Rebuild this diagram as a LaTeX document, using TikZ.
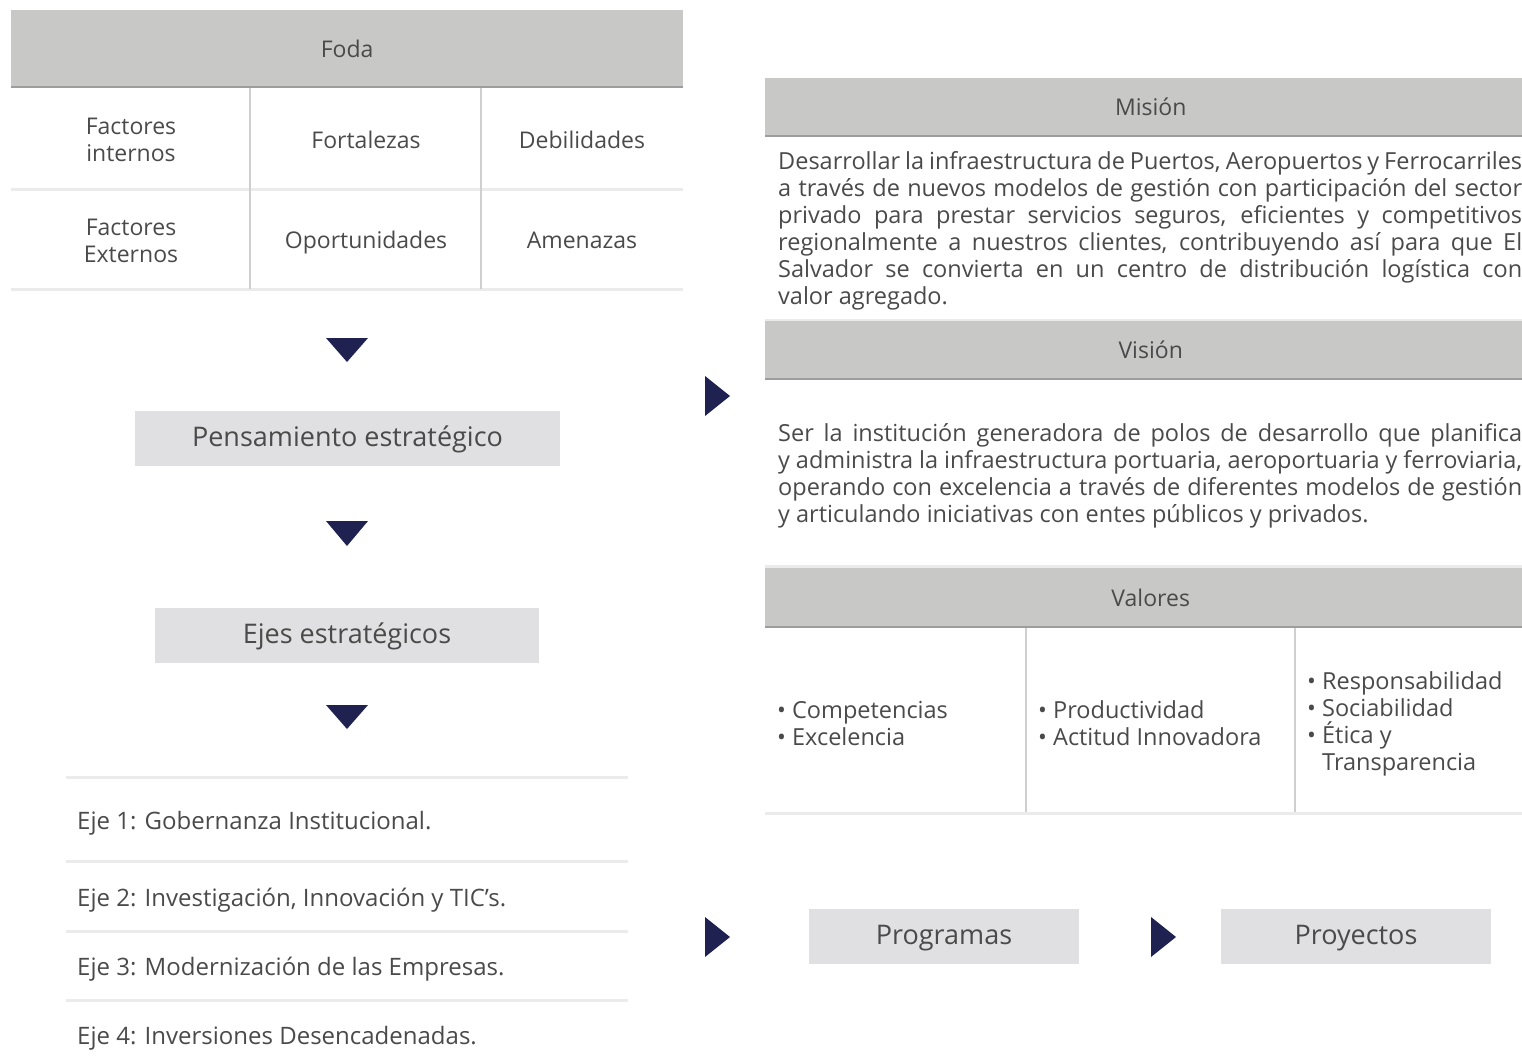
\documentclass[tikz,border=0pt]{standalone}
\usepackage{fontspec}
\setmainfont{Open Sans}
\usetikzlibrary{positioning}
\definecolor{headgray}{HTML}{C8C8C7}
\definecolor{headline}{HTML}{9D9D9D}
\definecolor{boxgray}{HTML}{E0E0E2}
\definecolor{rulegray}{HTML}{EBEBEB}
\definecolor{colgray}{HTML}{CFCFCF}
\definecolor{txtgray}{HTML}{4A4A4A}
\definecolor{navy}{HTML}{1F2250}

\newcommand{\fullline}[1]{\makebox[744pt][s]{#1}}

\tikzset{
  head/.style={fill=headgray, inner sep=0pt, anchor=north west,
               font=\fontsize{23}{27}\selectfont},
  cell/.style={align=center, font=\fontsize{23}{27}\selectfont},
  stagebox/.style={fill=boxgray, inner sep=0pt, minimum height=55pt,
                   text height=20pt, text depth=4pt,
                   font=\fontsize{27}{30}\selectfont},
  bodytext/.style={anchor=west, align=left, inner sep=0pt,
                   font=\fontsize{23.5}{27}\selectfont},
  ejetext/.style={bodytext, font=\fontsize{24}{27}\selectfont},
  headrule/.style={headline, line width=2pt},
  softrule/.style={rulegray, line width=3pt},
  colrule/.style={colgray, line width=1.5pt},
  marker/.style={navy},
}

\begin{document}
\begin{tikzpicture}[x=1pt, y=-1pt, every node/.style={text=txtgray}]
  \useasboundingbox (0,0) rectangle (1522,1060);

  %% ---- Foda table ----
  \node[head, minimum width=672pt, minimum height=77pt] (foda) at (11,10) {Foda};
  \draw[headrule] (foda.south west) -- (foda.south east);

  \node[cell] (fint) at (131,139.5) {Factores\\internos};
  \node[cell] (fort) at (366,139.5) {Fortalezas};
  \node[cell] (debi) at (582,139.5) {Debilidades};
  \node[cell] (fext) at (131,240.5) {Factores\\Externos};
  \node[cell] (opor) at (366,242.5) {Oportunidades};
  \node[cell] (amen) at (582,240.5) {Amenazas};

  \draw[softrule] (11,189) -- (683,189);
  \draw[softrule] (11,289) -- (683,289);
  \draw[colrule] (250,88) -- (250,289);
  \draw[colrule] (481,88) -- (481,289);

  %% ---- left column: stages ----
  \node[stagebox, minimum width=425pt] (pens) at (347.5,438.5) {Pensamiento estratégico};
  \node[stagebox, minimum width=384pt] (ejes) at (347,635.5) {Ejes estratégicos};

  \fill[marker] (326,338) -- (368,338) -- (347,362) -- cycle;
  \fill[marker] (326,521) -- (368,521) -- (347,546) -- cycle;
  \fill[marker] (326,705) -- (368,705) -- (347,729) -- cycle;

  %% ---- ejes list ----
  \foreach \y in {777,861,931,1000}
    \draw[softrule] (66,\y) -- (628,\y);
  \node[ejetext] (eje1) at (77,823) {Eje 1: Gobernanza Institucional.};
  \node[ejetext] (eje2) at (77,900) {Eje 2: Investigación, Innovación y TIC’s.};
  \node[ejetext] (eje3) at (77,969) {Eje 3: Modernización de las Empresas.};
  \node[ejetext] (eje4) at (77,1038) {Eje 4: Inversiones Desencadenadas.};

  %% ---- right column: Misión ----
  \node[head, minimum width=771pt, minimum height=58pt] (mision) at (765,78) {Misión};
  \draw[headrule] (mision.south west) -- (mision.south east);
  \node[bodytext] (mistext) at (778,231) {%
    \fullline{Desarrollar la infraestructura de Puertos, Aeropuertos y Ferrocarriles}\\
    \fullline{a través de nuevos modelos de gestión con participación del sector}\\
    \fullline{privado para prestar servicios seguros, eficientes y competitivos}\\
    \fullline{regionalmente a nuestros clientes, contribuyendo así para que El}\\
    \fullline{Salvador se convierta en un centro de distribución logística con}\\
    valor agregado.};
  \draw[softrule] (765,320) -- (1522,320);

  %% ---- Visión ----
  \node[head, minimum width=771pt, minimum height=58pt] (vision) at (765,321) {Visión};
  \draw[headrule] (vision.south west) -- (vision.south east);
  \node[bodytext] (vistext) at (778,476) {%
    \fullline{Ser la institución generadora de polos de desarrollo que planifica}\\
    \fullline{y administra la infraestructura portuaria, aeroportuaria y ferroviaria,}\\
    \fullline{operando con excelencia a través de diferentes modelos de gestión}\\
    y articulando iniciativas con entes públicos y privados.};

  %% ---- Valores ----
  \draw[softrule] (765,566) -- (1522,566);
  \node[head, minimum width=771pt, minimum height=59pt] (valores) at (765,568) {Valores};
  \draw[headrule] (valores.south west) -- (valores.south east);
  \node[bodytext] (val1) at (777,723.5) {• Competencias\\• Excelencia};
  \node[bodytext] (val2) at (1038,723.5) {• Productividad\\• Actitud Innovadora};
  \node[bodytext] (val3) at (1307,723.5) {• Responsabilidad\\• Sociabilidad\\• Ética y\\\phantom{• }Transparencia};
  \draw[colrule] (1026,628) -- (1026,813);
  \draw[colrule] (1295,628) -- (1295,813);
  \draw[softrule] (765,813) -- (1522,813);

  %% ---- Programas / Proyectos ----
  \node[stagebox, minimum width=270pt] (prog) at (944,936.5) {Programas};
  \node[stagebox, minimum width=270pt] (proy) at (1356,936.5) {Proyectos};

  \fill[marker] (705,376) -- (730,396) -- (705,416) -- cycle;
  \fill[marker] (705,917) -- (730,937) -- (705,957) -- cycle;
  \fill[marker] (1151,917) -- (1176,937) -- (1151,957) -- cycle;
\end{tikzpicture}
\end{document}
